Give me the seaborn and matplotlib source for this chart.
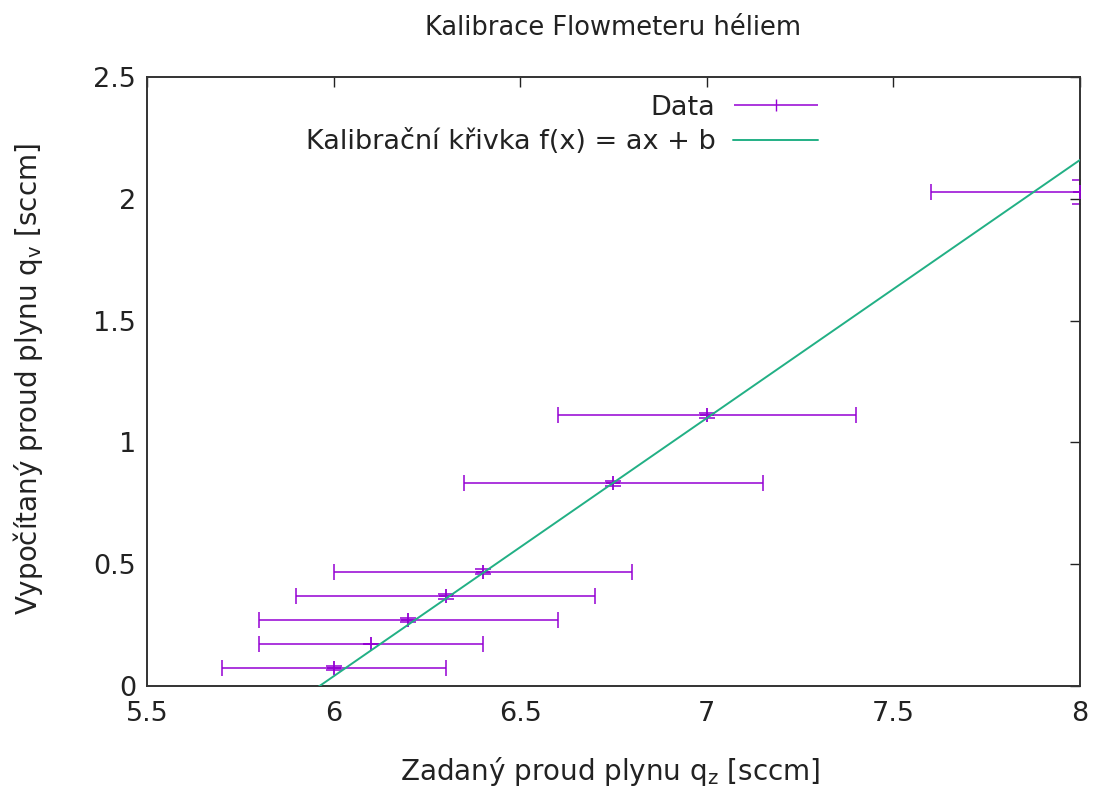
import numpy as np
import pandas as pd
import seaborn as sns
import matplotlib.pyplot as plt
from matplotlib.legend_handler import HandlerErrorbar

# values
zadany = [6.0, 6.1, 6.2, 6.3, 6.4, 6.75, 7.0, 8.0]
vypocitany = [0.074, 0.172, 0.271, 0.369, 0.469, 0.833, 1.112, 2.029]
x_err = [0.3, 0.3, 0.4, 0.4, 0.4, 0.4, 0.4, 0.4]
y_err = [0.01, 0.0, 0.01, 0.01, 0.01, 0.01, 0.01, 0.05]

# fit parameters f(x) = a*x + b
fit_a = 1.06
fit_b = -6.32

x_ticks = [5.5, 6, 6.5, 7, 7.5, 8]
y_ticks = [0, 0.5, 1, 1.5, 2, 2.5]

purple = "#9400d3"
green = "#22b085"
text_col = "#222222"

df = pd.DataFrame({"qz": zadany, "qv": vypocitany, "xerr": x_err, "yerr": y_err})

x_line = np.array([x_ticks[0], x_ticks[-1]])
fit_df = pd.DataFrame({"qz": x_line, "qv": fit_a * x_line + fit_b})

sns.set_theme(style="white")
plt.rcParams["font.family"] = ["DejaVu Sans"]

fig = plt.figure(figsize=(10.97, 7.87), dpi=100)
ax = fig.add_axes([0.134, 0.1283, 0.8505, 0.7737])

ax.errorbar(df["qz"], df["qv"], xerr=df["xerr"], yerr=df["yerr"], fmt="none",
            ecolor=purple, elinewidth=1.1, capsize=5.5, capthick=1.1, zorder=2)
sns.scatterplot(data=df, x="qz", y="qv", marker="+", s=110, color=purple,
                linewidth=1.3, ax=ax, zorder=3)
sns.lineplot(data=fit_df, x="qz", y="qv", color=green, linewidth=1.4, ax=ax, zorder=4)

ax.set_xlim(x_ticks[0], x_ticks[-1])
ax.set_ylim(y_ticks[0], y_ticks[-1])
ax.set_xticks(x_ticks)
ax.set_yticks(y_ticks)
ax.set_xticklabels([f"{t:g}" for t in x_ticks])
ax.set_yticklabels([f"{t:g}" for t in y_ticks])
ax.tick_params(direction="in", length=7, width=1, top=True, right=True,
               labelsize=19.5, colors=text_col, pad=8)
ax.tick_params(axis="x", pad=11)
for s in ax.spines.values():
    s.set_color("#333333")
    s.set_linewidth(1.4)

ax.text(0.5, 1.0805, "Kalibrace Flowmeteru héliem", transform=ax.transAxes,
        ha="center", va="center", fontsize=18.5, color=text_col)
ax.set_xlabel(r"Zadaný proud plynu q$_\mathregular{z}$ [sccm]", fontsize=20, color=text_col)
ax.set_ylabel(r"Vypočítaný proud plynu q$_\mathregular{v}$ [sccm]", fontsize=20, color=text_col)
ax.xaxis.set_label_coords(0.4965, -0.1396)
ax.yaxis.set_label_coords(-0.1275, 0.504)
ax.xaxis.label.set_va("center")
ax.yaxis.label.set_va("center")

data_handle = ax.errorbar([], [], xerr=[], fmt="|", color=purple, elinewidth=1.1,
                          capsize=5.5, capthick=1.1, markersize=8)
fit_handle = plt.Line2D([], [], color=green, linewidth=1.4)
ax.legend([data_handle, fit_handle], ["Data", "Kalibrační křivka f(x) = ax + b"],
          loc="upper right", bbox_to_anchor=(0.734, 0.993), frameon=False,
          markerfirst=False, fontsize=19.5, handlelength=3.15, handletextpad=0.65,
          labelspacing=0.3, borderpad=0, labelcolor=text_col,
          handler_map={data_handle: HandlerErrorbar(xerr_size=1.55)})

fig.savefig("out.png", dpi=100)
plt.close(fig)
